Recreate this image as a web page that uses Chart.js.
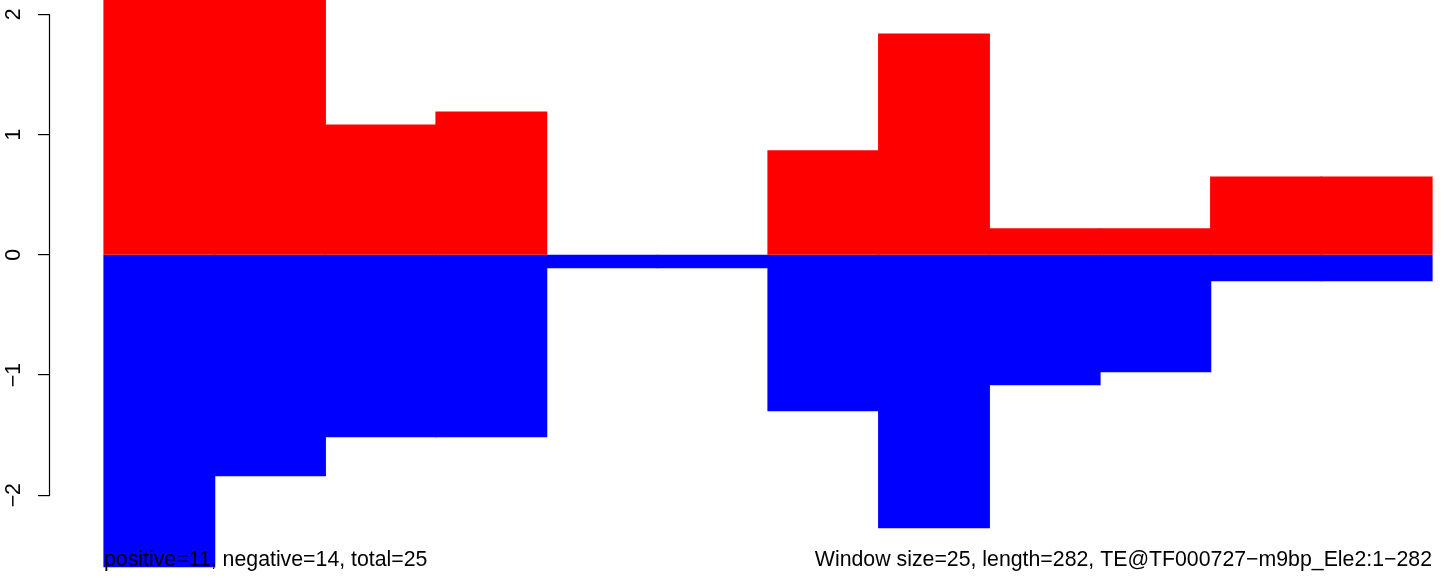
<!DOCTYPE html>
<html><head><meta charset="utf-8">
<script src="https://cdn.jsdelivr.net/npm/chart.js@4/dist/chart.umd.min.js"></script>
<style>html,body{margin:0;padding:0;background:#fff;overflow:hidden}#c{display:block}</style>
</head><body>
<canvas id="c" width="1444" height="578"></canvas>
<script>
// ---- data ----
const bins = [1, 2, 3, 4, 5, 6, 7, 8, 9, 10, 11, 12];
const positive = [2.30, 2.30, 1.080, 1.188, 0, 0, 0.864, 1.837, 0.215, 0.215, 0.647, 0.647];
const negative = [-2.595, -1.838, -1.513, -1.513, -0.107, -0.107, -1.297, -2.270, -1.081, -0.973, -0.215, -0.215];
const yTicks = [-2, -1, 0, 1, 2];
const leftNote = "positive=11, negative=14, total=25";
const rightNote = "Window size=25, length=282, TE@TF000727\u2212m9bp_Ele2:1\u2212282";

const FONT = '21.3px "Liberation Sans", Arial, Helvetica, sans-serif';

const rAxisPlugin = {
  id: 'rAxis',
  afterDraw(chart) {
    const ctx = chart.ctx;
    const ys = chart.scales.y;
    const xLine = chart.chartArea.left - 0.5;
    const yTop = ys.getPixelForValue(yTicks[yTicks.length - 1]);
    const yBot = ys.getPixelForValue(yTicks[0]);
    ctx.save();
    ctx.strokeStyle = '#000';
    ctx.lineWidth = 1.2;
    ctx.beginPath();
    ctx.moveTo(xLine, yTop - 0.5);
    ctx.lineTo(xLine, yBot + 0.5);
    ctx.stroke();
    ctx.fillStyle = '#000';
    ctx.font = FONT;
    ctx.textAlign = 'center';
    ctx.textBaseline = 'alphabetic';
    yTicks.forEach(v => {
      const y = ys.getPixelForValue(v);
      ctx.save();
      ctx.translate(20, y);
      ctx.rotate(-Math.PI / 2);
      ctx.fillText(String(v).replace('-', '\u2212'), 0, 0);
      ctx.restore();
    });
    // bottom notes
    const xs = chart.scales.x;
    ctx.textAlign = 'left';
    ctx.fillText(leftNote, xs.getPixelForValue(bins[0] - 0.5), 566);
    ctx.textAlign = 'right';
    ctx.fillText(rightNote, xs.getPixelForValue(bins[bins.length - 1] + 0.5), 566);
    ctx.restore();
  }
};

const inflate = c => (c.raw && c.raw.y === 0 ? 0 : 0.6);

new Chart(document.getElementById('c'), {
  type: 'bar',
  data: {
    datasets: [
      { label: 'positive', data: bins.map((b, i) => ({ x: b, y: positive[i] })),
        backgroundColor: '#ff0000', borderWidth: 0, inflateAmount: inflate,
        barPercentage: 1, categoryPercentage: 1 },
      { label: 'negative', data: bins.map((b, i) => ({ x: b, y: negative[i] })),
        backgroundColor: '#0000ff', borderWidth: 0, inflateAmount: inflate,
        barPercentage: 1, categoryPercentage: 1 }
    ]
  },
  options: {
    responsive: false,
    animation: false,
    devicePixelRatio: 1,
    layout: { padding: 0 },
    plugins: { legend: { display: false }, tooltip: { enabled: false } },
    scales: {
      x: { type: 'linear', min: 0.012, max: 12.6084, display: false, stacked: true, offset: false,
           grid: { offset: false } },
      y: {
        type: 'linear', position: 'left', stacked: true,
        min: -2.689, max: 2.1198,
        afterFit(s) { s.width = 50; },
        ticks: { display: false, stepSize: 1, includeBounds: false },
        grid: { drawOnChartArea: false, drawTicks: true, tickLength: 12, color: '#000', lineWidth: 1.2 },
        border: { display: false }
      }
    }
  },
  plugins: [rAxisPlugin]
});
</script>
</body></html>
